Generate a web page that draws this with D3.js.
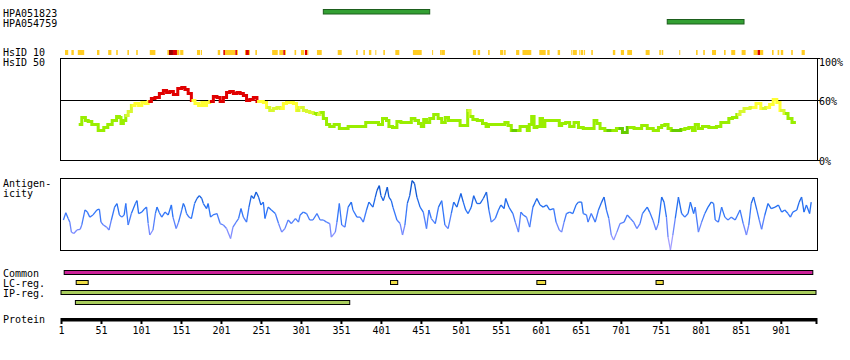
<!DOCTYPE html>
<html><head><meta charset="utf-8">
<script src="https://cdn.jsdelivr.net/npm/d3@7"></script>
<style>
body{margin:0;background:#fff}
svg text{font-family:"DejaVu Sans Mono",monospace;font-size:10px;fill:#000}
</style>
</head><body>
<svg id="chart" width="850" height="360"></svg>
<script>
// ---------------- DATA ----------------
const proteinLength = 945;
const axisTicks = [1,51,101,151,201,251,301,351,401,451,501,551,601,651,701,751,801,851,901];

const antibodyNames = ["HPA051823","HPA054759"];
const antibodyStart = [329, 759];
const antibodyEnd   = [462, 855];

// HsID 10 marks: start, end residue, level (0 = moderate, 1 = high, 2 = very high)
const hsid10Start = [6,14,22,46,60,70,84,95,112,134,136,141,146,150,171,176,197,204,206,219,221,231,232,236,244,265,274,279,281,293,301,306,309,321,347,370,379,386,394,404,419,441,465,475,477,516,522,535,550,555,570,578,599,609,622,639,641,649,651,655,664,691,701,709,732,749,752,774,795,804,815,830,839,852,867,872,875,890,897,901,914,927];
const hsid10End   = [10,17,30,49,64,72,86,97,119,136,141,146,149,154,175,177,200,206,219,221,222,232,236,237,246,272,279,281,282,295,305,309,310,327,352,372,381,389,395,406,424,452,466,477,481,520,525,537,554,557,574,589,607,612,625,640,646,650,654,656,666,694,705,715,737,751,754,775,797,806,820,832,844,857,872,875,879,892,899,904,916,931];
const hsid10Level = [0,0,0,0,0,0,0,0,0,0,2,1,0,0,0,0,0,1,0,1,0,0,1,0,0,0,0,1,0,0,0,1,0,0,0,0,0,0,0,0,0,0,0,0,0,0,0,0,0,0,0,0,0,0,0,0,0,0,0,0,0,0,0,0,0,0,0,0,0,0,0,0,0,0,0,1,0,0,0,0,0,0];

// HsID 50 (% identity) profile
const hsid50Pos = [25,29,34,36,43,52,57,62,68,73,75,77,81,83,87,91,96,100,104,108,112,116,121,127,131,135,139,144,150,154,158,162,166,171,175,179,181,185,189,194,198,202,206,210,214,219,223,227,231,235,239,244,248,252,256,260,264,269,273,277,281,285,289,294,297,300,
302,306,310,314,319,323,327,331,335,339,346,352,358,362,375,379,385,396,400,406,410,412,419,423,429,437,441,446,450,453,456,460,464,470,475,479,484,487,494,498,502,508,511,514,518,525,531,534,537,554,558,562,566,573,577,583,585,588,591,594,598,602,604,608,
612,623,625,629,635,639,646,650,658,666,669,673,677,685,691,700,706,712,723,731,737,746,750,754,758,762,766,773,779,783,789,792,796,800,806,816,825,827,835,837,844,848,852,858,867,873,879,885,889,894,898,902,908,912,918];
const hsid50Val = [36,43,40,39,36,30,33,36,40,44,43,37,40,45,49,55,57,55,58,57,59,62,63,67,70,68,69,66,72,73,71,67,60,57,55,58,55,58,59,64,63,59,63,68,69,67,68,67,65,60,61,63,59,59,58,53,50,52,53,52,57,58,58,57,50,53,
53,50,49,48,47,46,48,42,36,34,36,32,32,34,34,34,38,38,36,42,40,34,33,39,38,38,42,40,37,34,41,38,42,46,42,38,43,40,40,40,35,35,50,44,41,40,37,34,36,36,38,35,30,30,34,34,30,36,44,33,34,42,34,40,
40,40,35,37,38,34,38,33,32,32,40,37,32,30,30,32,28,33,32,35,32,30,33,35,36,32,30,30,31,32,33,30,36,32,34,33,34,38,38,42,43,46,49,52,53,57,52,53,56,61,58,50,47,42,38];
const hsid50Ticks = [100, 60, 0];

// Antigenicity profile (relative score 0-100)
const antiPos = [4,7,10,12,14,17,21,25,27,31,34,37,41,46,49,51,54,58,61,64,68,71,74,77,80,82,85,89,94,96,98,102,105,108,110,112,116,119,121,124,127,131,135,139,141,145,148,152,154,156,158,161,164,168,171,174,177,179,183,185,188,191,196,200,204,208,213,216,220,223,226,229,233,236,239,242,245,248,251,254,256,260,264,269,273,277,281,285,289,294,298,
300,304,308,312,316,321,325,329,333,337,339,344,346,349,352,356,360,364,366,371,375,379,383,386,391,394,396,399,401,404,406,409,411,414,416,421,425,428,431,434,437,440,443,446,450,454,458,461,464,469,473,477,481,485,489,492,496,501,504,507,510,514,517,521,525,529,533,536,539,544,548,551,555,557,561,566,569,573,576,579,583,587,591,594,596,600,604,608,612,
617,620,624,627,630,633,637,641,645,648,652,654,658,660,664,669,673,677,680,683,686,689,692,696,700,705,709,713,717,721,725,728,734,737,741,745,748,752,755,758,760,763,766,769,773,777,781,785,788,792,794,798,802,806,810,814,817,819,823,827,831,835,839,844,850,854,858,861,864,867,871,874,877,881,885,889,894,898,902,906,910,913,916,921,924,927,930,933,937,939];
const antiVal = [42,52,44,39,25,23,28,29,35,56,53,46,49,56,57,39,35,32,28,42,60,65,49,46,49,65,35,51,65,69,51,53,57,60,37,21,28,51,60,52,46,53,49,63,46,30,39,56,65,60,51,46,44,65,72,76,72,65,58,65,46,49,51,37,35,30,16,32,39,44,58,46,39,60,76,72,81,74,63,67,44,60,56,51,37,25,30,42,37,44,39,
49,53,51,42,42,51,42,42,39,37,18,25,39,65,35,32,60,67,56,46,46,39,56,67,60,74,83,90,76,69,76,88,74,69,60,42,37,21,35,65,76,97,93,74,60,53,30,56,44,37,60,69,35,30,51,67,60,79,67,56,51,60,76,65,65,72,81,56,39,44,56,63,58,72,60,51,39,25,53,49,46,32,60,67,72,63,60,63,56,
58,39,28,25,39,51,53,51,63,67,67,51,49,39,51,39,56,67,74,56,44,21,14,25,37,39,49,44,39,30,37,51,60,53,42,28,37,74,67,46,18,0,21,44,74,51,46,51,67,51,60,25,39,51,60,67,65,42,39,60,46,42,46,42,56,37,21,35,65,74,56,42,29,49,65,58,60,63,53,56,51,46,53,56,67,74,53,63,51,67];

// Feature tracks
const commonStart = [5],   commonEnd = [941];
const lcStart = [20, 413, 596, 745], lcEnd = [35, 422, 607, 754];
const ipStart = [1, 19],   ipEnd = [945, 362];

// ---------------- DRAWING ----------------
const svg = d3.select("#chart");
svg.append("rect").attr("width",850).attr("height",360).attr("fill","#fff");

const x = d3.scaleLinear().domain([1, proteinLength]).range([61, 816]);
const yH = d3.scaleLinear().domain([0, 100]).range([160.5, 60.5]);
const yA = d3.scaleLinear().domain([0, 100]).range([250, 178.5]);

const labels = [
  ["HPA051823",17],["HPA054759",27],["HsID 10",56],["HsID 50",66],
  ["Antigen-",187],["icity",197],["Common",277],["LC-reg.",287],["IP-reg.",297],["Protein",323]
];
svg.append("g").selectAll("text").data(labels).join("text")
  .attr("x",3).attr("y",d=>d[1]).text(d=>d[0]);

// antibody bars
svg.append("g").selectAll("rect").data(antibodyNames).join("rect")
  .attr("x",(d,i)=>x(antibodyStart[i])).attr("width",(d,i)=>x(antibodyEnd[i])-x(antibodyStart[i]))
  .attr("y",(d,i)=>9.5+i*10).attr("height",4.5)
  .attr("fill","#33a033").attr("stroke","#1d5e1d").attr("stroke-width",1);

// HsID 10
const lvlColor = ["#ffcc22","#dd0000","#990000"];
svg.append("g").selectAll("rect").data(hsid10Start).join("rect")
  .attr("x",(d,i)=>x(d)).attr("width",(d,i)=>Math.max(1,x(hsid10End[i])-x(d)))
  .attr("y",50).attr("height",5)
  .attr("fill",(d,i)=>lvlColor[hsid10Level[i]]);

// step segment path between two points
function stepSeg(x0,y0,x1,y1){
  const xm = (x0+x1)/2;
  return `M${x0},${y0}H${xm}V${y1}H${x1}`;
}

// HsID 50 panel
const gH = svg.append("g");
gH.append("line").attr("x1",60.5).attr("x2",60.5).attr("y1",58.5).attr("y2",160.5).attr("stroke","#000");
gH.append("line").attr("x1",817.5).attr("x2",817.5).attr("y1",58.5).attr("y2",160.5).attr("stroke","#000");
gH.append("line").attr("x1",60).attr("x2",820).attr("y1",58.5).attr("y2",58.5).attr("stroke","#000");
gH.append("line").attr("x1",60).attr("x2",820).attr("y1",yH(0)).attr("y2",yH(0)).attr("stroke","#000");
gH.append("line").attr("x1",60).attr("x2",820).attr("y1",yH(60)).attr("y2",yH(60)).attr("stroke","#000");
gH.selectAll("text").data(hsid50Ticks).join("text")
  .attr("x",819).attr("y",d=> d===100 ? 66 : yH(d)+4).text(d=>d+"%");

function hColor(v){
  if (v > 60) return "#e00000";
  if (v >= 53) return "#ffff33";
  if (v >= 47) return "#d8f830";
  if (v >= 31) return "#99ee00";
  return "#66cc00";
}
const hSegs = d3.range(hsid50Pos.length-1);
gH.append("g").selectAll("path").data(hSegs).join("path")
  .attr("d",i=>stepSeg(x(hsid50Pos[i]),yH(hsid50Val[i]),x(hsid50Pos[i+1]),yH(hsid50Val[i+1])))
  .attr("fill","none")
  .attr("stroke",i=>hColor((hsid50Val[i]+hsid50Val[i+1])/2))
  .attr("stroke-width",3).attr("stroke-linecap","square");

// Antigenicity panel
const gA = svg.append("g");
gA.append("rect").attr("x",60.5).attr("y",178.5).attr("width",757).attr("height",72)
  .attr("fill","none").attr("stroke","#000");
const aColor = d3.scaleLinear().domain([0,25,55,100]).range(["#b8a8ff","#7e8cff","#2a74f8","#0048c0"]);
const aSegs = d3.range(antiPos.length-1);
gA.append("g").selectAll("line").data(aSegs).join("line")
  .attr("x1",i=>x(antiPos[i])).attr("x2",i=>x(antiPos[i+1]))
  .attr("y1",i=>yA(antiVal[i])).attr("y2",i=>yA(antiVal[i+1]))
  .attr("stroke",i=>aColor((antiVal[i]+antiVal[i+1])/2))
  .attr("stroke-width",1.3);

// Feature tracks
function track(starts, ends, ys, fill){
  svg.append("g").selectAll("rect").data(starts).join("rect")
    .attr("x",d=>x(d)).attr("width",(d,i)=>x(ends[i])-x(d))
    .attr("y",(d,i)=>ys[i]).attr("height",4)
    .attr("fill",fill).attr("stroke","#000").attr("stroke-width",1);
}
track(commonStart, commonEnd, [270.5], "#cc2299");
track(lcStart, lcEnd, [280.5,280.5,280.5,280.5], "#eedd44");
track(ipStart, ipEnd, [290.5,300.5], "#a8cc5c");

// Protein axis
svg.append("rect").attr("x",x(1)).attr("width",x(proteinLength)-x(1)+1).attr("y",318).attr("height",3.5).attr("fill","#000");
const axis = d3.axisBottom(x).tickValues(axisTicks.concat([proteinLength])).tickSize(6)
  .tickFormat(d => d===proteinLength ? "" : String(d));
const gX = svg.append("g").attr("transform","translate(0,318)").call(axis);
gX.select(".domain").remove();
gX.selectAll(".tick line").attr("stroke","#000").attr("stroke-width",2);
gX.selectAll(".tick text").attr("font-family","DejaVu Sans Mono, monospace").attr("font-size",10).attr("fill","#000");
gX.attr("font-family",null).attr("font-size",null);
</script>
</body></html>
